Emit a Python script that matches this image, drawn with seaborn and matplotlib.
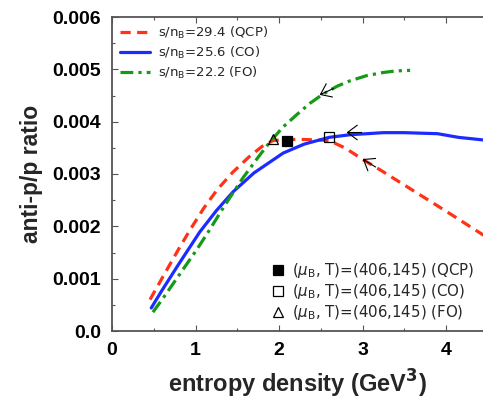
import numpy as np
import matplotlib
matplotlib.use("Agg")
import matplotlib.pyplot as plt
import seaborn as sns
import pandas as pd
from matplotlib.path import Path
from matplotlib.markers import MarkerStyle
from matplotlib.transforms import Affine2D
from matplotlib.lines import Line2D
from matplotlib.ticker import MultipleLocator

# ---------------- data ----------------
qcp_x = [0.455, 0.6, 0.8, 0.93, 1.1, 1.26, 1.45, 1.65, 1.8, 1.93, 2.1, 2.3, 2.6, 2.8, 3.0, 3.21, 3.65, 4.0, 4.45]
qcp_y = [0.0006, 0.00101, 0.00157, 0.00192, 0.00235, 0.0027, 0.00304, 0.00334, 0.00353, 0.00364, 0.00366, 0.00366, 0.00364, 0.00349, 0.00328, 0.00308, 0.00264, 0.00229, 0.00183]

co_x = [0.47, 0.6, 0.8, 1.05, 1.25, 1.45, 1.7, 2.05, 2.3, 2.6, 2.85, 3.25, 3.5, 3.9, 4.15, 4.45]
co_y = [0.00044, 0.00078, 0.00128, 0.00189, 0.0023, 0.00266, 0.00302, 0.0034, 0.00357, 0.0037, 0.00375, 0.00379, 0.00379, 0.00377, 0.0037, 0.00365]

fo_x = [0.49, 0.6, 0.8, 1.0, 1.14, 1.35, 1.57, 1.75, 1.89, 2.05, 2.21, 2.37, 2.53, 2.7, 2.85, 3.05, 3.25, 3.4, 3.57]
fo_y = [0.00036, 0.0006, 0.00106, 0.00152, 0.00186, 0.0024, 0.00293, 0.00332, 0.00361, 0.0039, 0.00413, 0.00435, 0.00453, 0.00468, 0.00478, 0.00488, 0.00494, 0.00497, 0.00498]

series_labels = [r"s/n$_{\rm B}$=29.4 (QCP)", r"s/n$_{\rm B}$=25.6 (CO)", r"s/n$_{\rm B}$=22.2 (FO)"]

point_x = [2.10, 2.60, 1.93]
point_y = [0.00363, 0.00371, 0.00367]
point_labels = [r"($\mu_{\rm B}$, T)=(406,145) (QCP)",
                r"($\mu_{\rm B}$, T)=(406,145) (CO)",
                r"($\mu_{\rm B}$, T)=(406,145) (FO)"]

arrow_x = [3.00, 2.81, 2.49]
arrow_y = [0.00329, 0.00381, 0.00453]
arrow_angle = [148, 180, 205]

xticks = [0, 1, 2, 3, 4]
xticklabels = ["0", "1", "2", "3", "4"]
yticks = [0.0, 0.001, 0.002, 0.003, 0.004, 0.005, 0.006]
yticklabels = ["0.0", "0.001", "0.002", "0.003", "0.004", "0.005", "0.006"]

# ---------------- style ----------------
sns.set_theme(style="ticks")
plt.rcParams["font.family"] = ["DejaVu Sans"]
plt.rcParams["mathtext.fontset"] = "dejavusans"

fig = plt.figure(figsize=(4.83, 4.03), dpi=100)
ax = fig.add_axes([112 / 483, (403 - 331) / 403, 1 - 112 / 483, (331 - 17) / 403])

colors = ["#ff3218", "#1c2cff", "#159a15"]

df = pd.concat([
    pd.DataFrame({"x": qcp_x, "y": qcp_y, "s": series_labels[0]}),
    pd.DataFrame({"x": co_x, "y": co_y, "s": series_labels[1]}),
    pd.DataFrame({"x": fo_x, "y": fo_y, "s": series_labels[2]}),
])

for lab, col, ls in zip(series_labels, colors,
                        [(0, (3.2, 2.0)), "-", (0, (4.0, 1.6, 1.0, 1.6))]):
    sub = df[df["s"] == lab]
    sns.lineplot(data=sub, x="x", y="y", ax=ax, color=col, lw=2.3,
                 linestyle=ls, sort=False, label=lab, estimator=None)

# arrows (open arrowheads with a short stem)
arrow_path = Path([(0, 0), (1.0, 0.75), (0, 0), (1.0, -0.75), (0, 0), (1.45, 0)],
                  [Path.MOVETO, Path.LINETO, Path.MOVETO, Path.LINETO, Path.MOVETO, Path.LINETO])
for ax_, ay_, ang in zip(arrow_x, arrow_y, arrow_angle):
    m = MarkerStyle(arrow_path, transform=Affine2D().rotate_deg(ang - 180))
    ax.plot([ax_], [ay_], marker=m, ms=21, mfc="none", mec="black", mew=0.8, ls="none")

# points
pt_styles = [dict(marker="s", mfc="black", mec="black", ms=7),
             dict(marker="s", mfc="none", mec="black", ms=7),
             dict(marker="^", mfc="none", mec="black", ms=7.5)]
pt_handles = []
for px, py, st, lab in zip(point_x, point_y, pt_styles, point_labels):
    ax.plot([px], [py], ls="none", mew=0.9, zorder=5, **st)
    pt_handles.append(Line2D([], [], ls="none", mew=0.9, **st))

ax.set_xlim(0, (483 - 112) / 83.5)
ax.set_ylim(0, 0.006)
ax.set_xticks(xticks)
ax.set_xticklabels(xticklabels)
ax.set_yticks(yticks)
ax.set_yticklabels(yticklabels)
ax.xaxis.set_minor_locator(MultipleLocator(0.5))
ax.yaxis.set_minor_locator(MultipleLocator(0.0005))
ax.tick_params(which="both", direction="in", top=True, right=False, colors="#555555",
               labelcolor="black", width=0.8)
ax.tick_params(which="major", length=4)
ax.tick_params(which="minor", length=2.5)
ax.tick_params(axis="both", which="major", pad=8)
for lbl in ax.get_xticklabels() + ax.get_yticklabels():
    lbl.set_fontfamily("Liberation Sans")
    lbl.set_fontweight("bold")
    lbl.set_fontsize(14)

for sp in ["left", "bottom", "top"]:
    ax.spines[sp].set_color("#555555")
    ax.spines[sp].set_linewidth(1.3)
ax.spines["right"].set_visible(False)

ax.set_xlabel("entropy density (GeV$^{\\mathbf{3}}$)", fontfamily="Liberation Sans",
              fontweight="bold", fontsize=17, labelpad=6)
ax.set_ylabel("anti-p/p ratio", fontfamily="Liberation Sans",
              fontweight="bold", fontsize=16.5, labelpad=7)

leg1 = ax.legend(loc="upper left", fontsize=9.5, frameon=False, handlelength=2.3,
                 handletextpad=0.6, borderaxespad=0.2, labelspacing=0.3)
ax.add_artist(leg1)
ax.legend(pt_handles, point_labels, loc="lower right", fontsize=10.8, frameon=False,
          handlelength=0.8, handletextpad=0.5, borderaxespad=0.2, labelspacing=0.12)

fig.savefig("out.png", dpi=100)
